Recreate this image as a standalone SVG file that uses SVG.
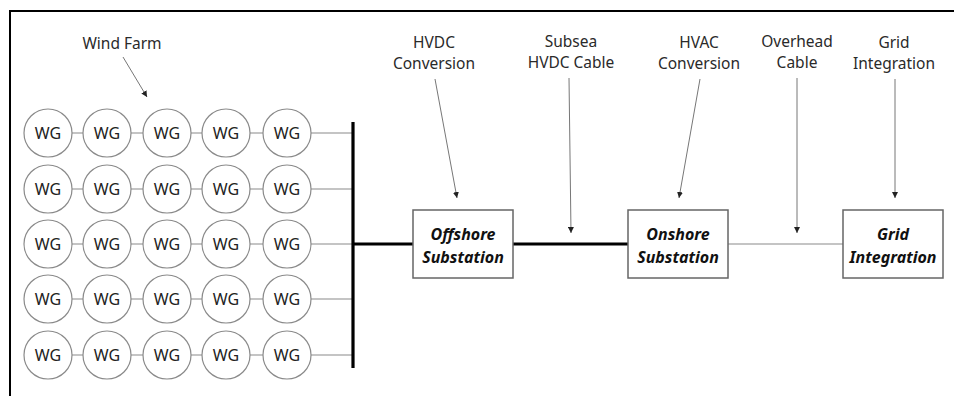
<svg xmlns="http://www.w3.org/2000/svg" width="954" height="396" viewBox="0 0 954 396">
  <defs>
    <marker id="head" viewBox="0 0 10 10" refX="10" refY="5" markerWidth="6" markerHeight="6" orient="auto" markerUnits="userSpaceOnUse">
      <path d="M0,0 L10,5 L0,10 z" fill="#222"/>
    </marker>
    <style>
      .frame { stroke: #000; stroke-width: 2; fill: none; }
      .wg circle { fill: #fff; stroke: #8a8a8a; stroke-width: 1.2; }
      .wg text { font-family: "Noto Sans", "Liberation Sans", sans-serif; font-size: 16px; fill: #222; text-anchor: middle; }
      .link { stroke: #8a8a8a; stroke-width: 1.2; fill: none; }
      .bus { stroke: #000; stroke-width: 3.2; fill: none; }
      .thin { stroke: #8a8a8a; stroke-width: 1.2; fill: none; }
      .pointer { stroke: #777; stroke-width: 1; fill: none; marker-end: url(#head); }
      .box rect { fill: #fff; stroke: #666; stroke-width: 1.5; }
      .box text { font-family: "Noto Sans", "Liberation Sans", sans-serif; font-size: 16px; font-weight: bold; font-style: italic; fill: #111; text-anchor: middle; }
      .label { font-family: "Noto Sans", "Liberation Sans", sans-serif; font-size: 15.5px; fill: #2a2a2a; text-anchor: middle; }
    </style>
  </defs>

  <!-- page frame (top and left edges) -->
  <path class="frame" d="M10,396 V11 H954"/>

  <!-- connectors -->
  <g id="connectors">
    <!-- turbine strings -->
    <g class="link">
      <path d="M72,133 H83 M131,133 H143 M191,133 H202 M250,133 H263 M311,133 H353"/>
      <path d="M72,189 H83 M131,189 H143 M191,189 H202 M250,189 H263 M311,189 H353"/>
      <path d="M72,244 H83 M131,244 H143 M191,244 H202 M250,244 H263 M311,244 H353"/>
      <path d="M72,299 H83 M131,299 H143 M191,299 H202 M250,299 H263 M311,299 H353"/>
      <path d="M72,355 H83 M131,355 H143 M191,355 H202 M250,355 H263 M311,355 H353"/>
    </g>
    <!-- collector bus and HVDC link -->
    <path class="bus" d="M353,122 V368"/>
    <path class="bus" d="M353,244 H413"/>
    <path class="bus" d="M513,244 H628"/>
    <!-- overhead line -->
    <path class="thin" d="M728,244 H843"/>
    <!-- label pointers -->
    <path class="pointer" d="M123,57 L147,97"/>
    <path class="pointer" d="M435,79 L457,198"/>
    <path class="pointer" d="M569,78 L571,233"/>
    <path class="pointer" d="M700,79 L679,198"/>
    <path class="pointer" d="M797,78 L797,233"/>
    <path class="pointer" d="M895,79 L895,198"/>
  </g>

  <!-- wind generators -->
  <g id="wind-farm">
    <g class="wg" id="wg-r1"><circle cx="48" cy="133" r="24"/><text x="48" y="139">WG</text><circle cx="107" cy="133" r="24"/><text x="107" y="139">WG</text><circle cx="167" cy="133" r="24"/><text x="167" y="139">WG</text><circle cx="226" cy="133" r="24"/><text x="226" y="139">WG</text><circle cx="287" cy="133" r="24"/><text x="287" y="139">WG</text></g>
    <g class="wg" id="wg-r2"><circle cx="48" cy="189" r="24"/><text x="48" y="195">WG</text><circle cx="107" cy="189" r="24"/><text x="107" y="195">WG</text><circle cx="167" cy="189" r="24"/><text x="167" y="195">WG</text><circle cx="226" cy="189" r="24"/><text x="226" y="195">WG</text><circle cx="287" cy="189" r="24"/><text x="287" y="195">WG</text></g>
    <g class="wg" id="wg-r3"><circle cx="48" cy="244" r="24"/><text x="48" y="250">WG</text><circle cx="107" cy="244" r="24"/><text x="107" y="250">WG</text><circle cx="167" cy="244" r="24"/><text x="167" y="250">WG</text><circle cx="226" cy="244" r="24"/><text x="226" y="250">WG</text><circle cx="287" cy="244" r="24"/><text x="287" y="250">WG</text></g>
    <g class="wg" id="wg-r4"><circle cx="48" cy="299" r="24"/><text x="48" y="305">WG</text><circle cx="107" cy="299" r="24"/><text x="107" y="305">WG</text><circle cx="167" cy="299" r="24"/><text x="167" y="305">WG</text><circle cx="226" cy="299" r="24"/><text x="226" y="305">WG</text><circle cx="287" cy="299" r="24"/><text x="287" y="305">WG</text></g>
    <g class="wg" id="wg-r5"><circle cx="48" cy="355" r="24"/><text x="48" y="361">WG</text><circle cx="107" cy="355" r="24"/><text x="107" y="361">WG</text><circle cx="167" cy="355" r="24"/><text x="167" y="361">WG</text><circle cx="226" cy="355" r="24"/><text x="226" y="361">WG</text><circle cx="287" cy="355" r="24"/><text x="287" y="361">WG</text></g>
  </g>

  <!-- substations and grid -->
  <g id="offshore" class="box">
    <rect x="413" y="210" width="100" height="68"/>
    <text x="463" y="240">Offshore</text>
    <text x="463" y="263">Substation</text>
  </g>
  <g id="onshore" class="box">
    <rect x="628" y="210" width="100" height="68"/>
    <text x="678" y="240">Onshore</text>
    <text x="678" y="263">Substation</text>
  </g>
  <g id="grid" class="box">
    <rect x="843" y="210" width="100" height="68"/>
    <text x="893" y="240">Grid</text>
    <text x="893" y="263">Integration</text>
  </g>

  <!-- stage captions -->
  <g id="captions">
    <text class="label" x="122" y="49">Wind Farm</text>
    <text class="label" x="434" y="48">HVDC</text>
    <text class="label" x="434" y="69">Conversion</text>
    <text class="label" x="571" y="47">Subsea</text>
    <text class="label" x="571" y="68">HVDC Cable</text>
    <text class="label" x="699" y="48">HVAC</text>
    <text class="label" x="699" y="69">Conversion</text>
    <text class="label" x="797" y="47">Overhead</text>
    <text class="label" x="797" y="68">Cable</text>
    <text class="label" x="894" y="48">Grid</text>
    <text class="label" x="894" y="69">Integration</text>
  </g>
</svg>
